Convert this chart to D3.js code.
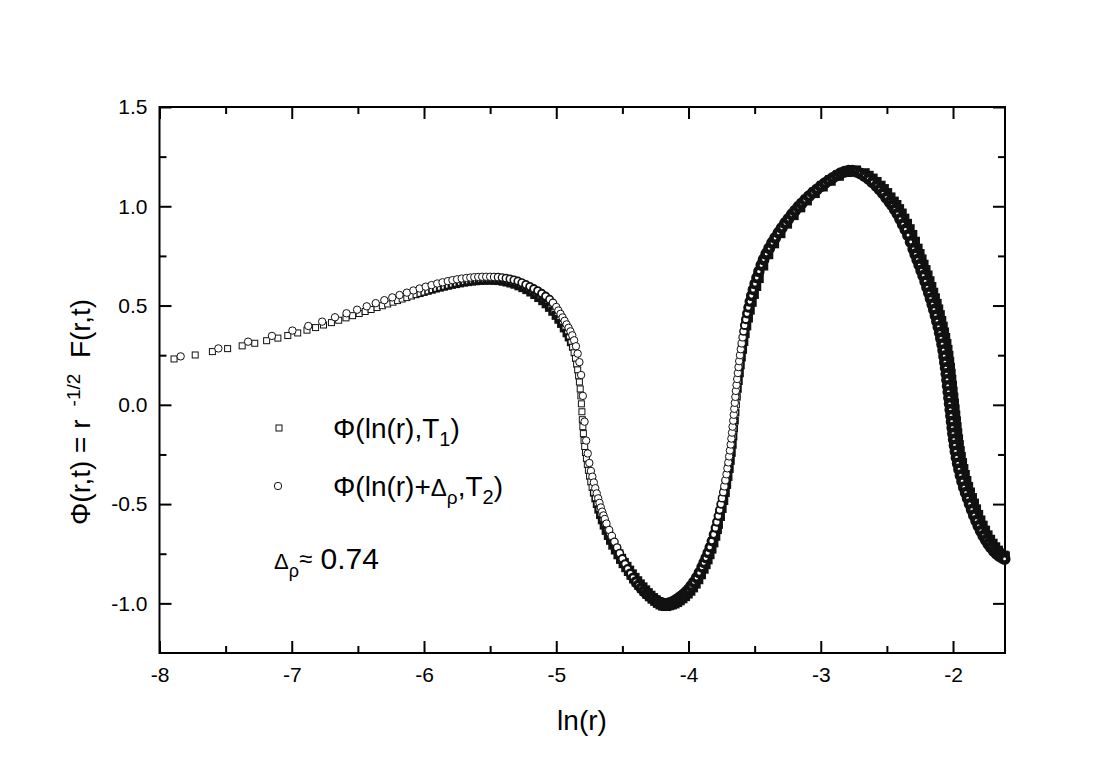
<!DOCTYPE html>
<html>
<head>
<meta charset="utf-8">
<script src="https://cdn.jsdelivr.net/npm/d3@7"></script>
<style>
  body { margin: 0; background: #fff; }
  svg text { font-family: "Liberation Sans", Arial, sans-serif; fill: #000; white-space: pre; }
</style>
</head>
<body>
<svg id="chart" width="1107" height="772"></svg>
<script>
'use strict';

// axis ticks
var xTicks = [-8, -7, -6, -5, -4, -3, -2];
var xMinorTicks = [-7.5, -6.5, -5.5, -4.5, -3.5, -2.5];
var yTicks = [-1.0, -0.5, 0.0, 0.5, 1.0, 1.5];
var yMinorTicks = [-0.75, -0.25, 0.25, 0.75, 1.25];

// Phi(ln(r),T1)  -> squares, [ln(r), Phi]
var seriesT1 = [
  [-7.89,0.231],[-7.73,0.251],[-7.60,0.268],[-7.485,0.283],[-7.375,0.297],[-7.28,0.310],[-7.19,0.323],[-7.105,0.336],
  [-7.03,0.349],[-6.955,0.362],[-6.885,0.376],[-6.82,0.389],[-6.76,0.402],[-6.70,0.414],[-6.645,0.426],[-6.59,0.438],
  [-6.54,0.449],[-6.49,0.460],[-6.445,0.470],[-6.40,0.480],[-6.355,0.490],[-6.315,0.499],[-6.275,0.508],[-6.235,0.517],
  [-6.20,0.525],[-6.165,0.533],[-6.13,0.540],[-6.095,0.548],[-6.06,0.555],[-6.03,0.561],[-6.00,0.567],[-5.97,0.573],
  [-5.94,0.579],[-5.91,0.585],[-5.88,0.590],[-5.85,0.595],[-5.82,0.600],[-5.79,0.605],[-5.76,0.609],[-5.73,0.613],
  [-5.70,0.617],[-5.67,0.620],[-5.64,0.623],[-5.61,0.625],[-5.58,0.627],[-5.55,0.628],[-5.52,0.629],[-5.49,0.629],
  [-5.46,0.628],[-5.43,0.627],[-5.40,0.624],[-5.37,0.620],[-5.34,0.615],[-5.31,0.609],[-5.28,0.601],[-5.25,0.592],
  [-5.22,0.582],[-5.19,0.570],[-5.16,0.557],[-5.13,0.542],[-5.10,0.526],[-5.075,0.510],[-5.05,0.492],[-5.025,0.472],
  [-5.0,0.451],[-4.98,0.431],[-4.96,0.410],[-4.94,0.387],[-4.92,0.362],[-4.905,0.340],[-4.89,0.315],[-4.877,0.290],
  [-4.865,0.262],[-4.855,0.234],[-4.846,0.205],[-4.838,0.176],[-4.831,0.146],[-4.825,0.115],[-4.819,0.080],[-4.814,0.045],
  [-4.81,0.005],[-4.806,-0.035],[-4.803,-0.075],[-4.799,-0.110],[-4.795,-0.145],[-4.79,-0.180],[-4.785,-0.210],[-4.779,-0.240],
  [-4.772,-0.270],[-4.765,-0.300],[-4.757,-0.330],[-4.748,-0.360],[-4.739,-0.388],[-4.729,-0.416],[-4.718,-0.444],[-4.706,-0.472],
  [-4.694,-0.500],[-4.681,-0.527],[-4.667,-0.554],[-4.653,-0.580],[-4.638,-0.606],[-4.622,-0.632],[-4.605,-0.657],[-4.588,-0.681],
  [-4.57,-0.705],[-4.55,-0.729],[-4.53,-0.753],[-4.51,-0.776],[-4.49,-0.797],[-4.47,-0.817],[-4.45,-0.836],[-4.43,-0.855],
  [-4.41,-0.873],[-4.39,-0.890],[-4.37,-0.906],[-4.35,-0.921],[-4.33,-0.936],[-4.31,-0.950],[-4.29,-0.963],[-4.27,-0.975],
  [-4.25,-0.986],[-4.23,-0.996],[-4.21,-1.004],[-4.19,-1.010],[-4.17,-1.012],[-4.148,-1.008],[-4.128,-1.004],[-4.108,-0.999],
  [-4.088,-0.992],[-4.068,-0.983],[-4.048,-0.973],[-4.028,-0.962],[-4.008,-0.949],[-3.988,-0.935],[-3.968,-0.918],[-3.948,-0.899],
  [-3.928,-0.877],[-3.908,-0.852],[-3.888,-0.824],[-3.873,-0.801],[-3.858,-0.777],[-3.843,-0.751],[-3.828,-0.723],[-3.813,-0.692],
  [-3.798,-0.659],[-3.785,-0.626],[-3.777,-0.60],[-3.762,-0.56],[-3.749,-0.52],[-3.736,-0.48],[-3.724,-0.44],[-3.713,-0.40],
  [-3.703,-0.36],[-3.693,-0.32],[-3.684,-0.28],[-3.676,-0.24],[-3.668,-0.20],[-3.661,-0.16],[-3.655,-0.12],[-3.649,-0.08],
  [-3.643,-0.04],[-3.638,0.00],[-3.633,0.04],[-3.627,0.08],[-3.621,0.12],[-3.614,0.16],[-3.607,0.20],[-3.600,0.24],
  [-3.592,0.28],[-3.583,0.32],[-3.574,0.36],[-3.563,0.40],[-3.551,0.44],[-3.538,0.48],[-3.524,0.52],[-3.508,0.56],
  [-3.490,0.60],[-3.471,0.64],[-3.437,0.703],[-3.399,0.760],[-3.355,0.815],[-3.307,0.866],[-3.257,0.914],[-3.207,0.957],
  [-3.157,0.996],[-3.107,1.031],[-3.047,1.068],[-2.987,1.101],[-2.927,1.130],[-2.865,1.155],[-2.80,1.174],[-2.735,1.179],
  [-2.67,1.165],[-2.64,1.152],[-2.61,1.138],[-2.58,1.121],[-2.55,1.102],[-2.525,1.085],[-2.50,1.065],[-2.475,1.043],
  [-2.45,1.022],[-2.43,1.005],[-2.41,0.984],[-2.39,0.962],[-2.37,0.936],[-2.35,0.910],[-2.33,0.883],[-2.31,0.854],
  [-2.29,0.820],[-2.27,0.785],[-2.255,0.758],[-2.24,0.731],[-2.225,0.704],[-2.21,0.677],[-2.195,0.650],[-2.18,0.621],
  [-2.166,0.592],[-2.152,0.563],[-2.139,0.535],[-2.126,0.507],[-2.114,0.479],[-2.102,0.450],[-2.091,0.421],[-2.08,0.392],
  [-2.07,0.363],[-2.061,0.335],[-2.052,0.305],[-2.044,0.275],[-2.037,0.245],[-2.031,0.215],[-2.025,0.185],[-2.02,0.155],
  [-2.015,0.125],[-2.01,0.095],[-2.005,0.065],[-2.0,0.035],[-1.995,0.005],[-1.99,-0.025],[-1.985,-0.055],[-1.98,-0.085],
  [-1.975,-0.115],[-1.97,-0.145],[-1.964,-0.175],[-1.958,-0.205],[-1.951,-0.235],[-1.943,-0.265],[-1.934,-0.295],[-1.924,-0.325],
  [-1.913,-0.355],[-1.901,-0.385],[-1.888,-0.415],[-1.874,-0.443],[-1.859,-0.471],[-1.844,-0.499],[-1.828,-0.528],[-1.812,-0.556],
  [-1.795,-0.584],[-1.778,-0.610],[-1.76,-0.635],[-1.741,-0.659],[-1.722,-0.681],[-1.703,-0.701],[-1.683,-0.719],[-1.662,-0.736],
  [-1.641,-0.750],[-1.62,-0.761],[-1.61,-0.765]
];

// Phi(ln(r)+Delta_rho,T2)  -> circles, [ln(r), Phi]
var seriesT2 = [
  [-7.84,0.244],[-7.555,0.284],[-7.33,0.318],[-7.15,0.347],[-6.995,0.374],[-6.875,0.397],[-6.77,0.419],[-6.673,0.441],
  [-6.586,0.461],[-6.506,0.479],[-6.433,0.496],[-6.365,0.512],[-6.30,0.527],[-6.24,0.541],[-6.185,0.553],[-6.13,0.565],
  [-6.08,0.576],[-6.033,0.586],[-5.987,0.595],[-5.943,0.603],[-5.90,0.611],[-5.86,0.617],[-5.82,0.623],[-5.785,0.628],
  [-5.75,0.632],[-5.715,0.636],[-5.68,0.639],[-5.65,0.641],[-5.62,0.643],[-5.59,0.644],[-5.56,0.645],[-5.53,0.645],
  [-5.50,0.645],[-5.47,0.644],[-5.44,0.643],[-5.41,0.641],[-5.38,0.638],[-5.35,0.634],[-5.32,0.629],[-5.29,0.623],
  [-5.26,0.615],[-5.23,0.606],[-5.20,0.596],[-5.17,0.585],[-5.14,0.574],[-5.11,0.561],[-5.08,0.547],[-5.05,0.531],
  [-5.025,0.514],[-5.0,0.493],[-4.984,0.475],[-4.968,0.458],[-4.952,0.440],[-4.937,0.423],[-4.922,0.405],[-4.907,0.388],
  [-4.893,0.370],[-4.879,0.350],[-4.865,0.325],[-4.851,0.295],[-4.838,0.258],[-4.825,0.215],[-4.812,0.150],[-4.799,0.045],
  [-4.786,-0.085],[-4.774,-0.180],[-4.762,-0.245],[-4.750,-0.293],[-4.738,-0.333],[-4.727,-0.362],[-4.716,-0.391],[-4.705,-0.420],
  [-4.694,-0.446],[-4.683,-0.471],[-4.673,-0.494],[-4.663,-0.517],[-4.653,-0.538],[-4.643,-0.557],[-4.633,-0.575],[-4.62,-0.598],
  [-4.60,-0.630],[-4.58,-0.661],[-4.56,-0.690],[-4.54,-0.719],[-4.52,-0.747],[-4.50,-0.775],[-4.48,-0.801],[-4.46,-0.826],
  [-4.44,-0.849],[-4.42,-0.870],[-4.40,-0.890],[-4.38,-0.907],[-4.36,-0.923],[-4.34,-0.937],[-4.32,-0.950],[-4.30,-0.960],
  [-4.28,-0.970],[-4.26,-0.980],[-4.24,-0.988],[-4.22,-0.995],[-4.20,-1.000],[-4.18,-1.003],[-4.16,-1.002],[-4.14,-0.998],
  [-4.12,-0.993],[-4.10,-0.986],[-4.08,-0.977],[-4.06,-0.967],[-4.04,-0.956],[-4.02,-0.943],[-4.00,-0.929],[-3.98,-0.912],
  [-3.96,-0.893],[-3.94,-0.871],[-3.92,-0.846],[-3.90,-0.818],[-3.885,-0.795],[-3.87,-0.771],[-3.855,-0.745],[-3.84,-0.717],
  [-3.825,-0.686],[-3.81,-0.653],[-3.797,-0.62],[-3.786,-0.59],[-3.775,-0.56],[-3.765,-0.53],[-3.755,-0.50],[-3.746,-0.47],
  [-3.737,-0.44],[-3.729,-0.41],[-3.721,-0.38],[-3.713,-0.35],[-3.706,-0.32],[-3.699,-0.29],[-3.693,-0.26],[-3.687,-0.23],
  [-3.681,-0.20],[-3.676,-0.17],[-3.671,-0.14],[-3.667,-0.11],[-3.662,-0.08],[-3.658,-0.05],[-3.654,-0.02],[-3.650,0.01],
  [-3.646,0.04],[-3.642,0.07],[-3.637,0.10],[-3.632,0.13],[-3.627,0.16],[-3.622,0.19],[-3.617,0.22],[-3.611,0.25],
  [-3.605,0.28],[-3.598,0.31],[-3.591,0.34],[-3.584,0.37],[-3.576,0.40],[-3.567,0.43],[-3.558,0.46],[-3.548,0.49],
  [-3.537,0.52],[-3.525,0.55],[-3.512,0.58],[-3.498,0.61],[-3.484,0.64],[-3.468,0.672],[-3.45,0.703],[-3.432,0.732],
  [-3.412,0.760],[-3.39,0.788],[-3.368,0.815],[-3.345,0.840],[-3.32,0.866],[-3.295,0.891],[-3.27,0.914],[-3.245,0.936],
  [-3.22,0.957],[-3.195,0.977],[-3.17,0.996],[-3.145,1.014],[-3.12,1.031],[-3.09,1.050],[-3.06,1.068],[-3.03,1.085],
  [-3.00,1.101],[-2.97,1.116],[-2.94,1.130],[-2.91,1.143],[-2.88,1.155],[-2.85,1.166],[-2.82,1.174],[-2.79,1.179],
  [-2.76,1.179],[-2.73,1.174],[-2.70,1.165],[-2.67,1.152],[-2.64,1.138],[-2.61,1.121],[-2.58,1.102],[-2.555,1.085],
  [-2.53,1.065],[-2.505,1.043],[-2.48,1.022],[-2.46,1.005],[-2.44,0.984],[-2.42,0.962],[-2.40,0.936],[-2.38,0.910],
  [-2.36,0.883],[-2.34,0.854],[-2.32,0.820],[-2.30,0.785],[-2.285,0.758],[-2.27,0.731],[-2.255,0.704],[-2.24,0.677],
  [-2.225,0.650],[-2.21,0.621],[-2.196,0.592],[-2.182,0.563],[-2.169,0.535],[-2.156,0.507],[-2.144,0.479],[-2.132,0.450],
  [-2.121,0.421],[-2.11,0.392],[-2.10,0.363],[-2.091,0.335],[-2.082,0.305],[-2.074,0.275],[-2.067,0.245],[-2.061,0.215],
  [-2.055,0.185],[-2.05,0.155],[-2.045,0.125],[-2.04,0.095],[-2.035,0.065],[-2.03,0.035],[-2.025,0.005],[-2.02,-0.025],
  [-2.015,-0.055],[-2.01,-0.085],[-2.005,-0.115],[-2.00,-0.145],[-1.994,-0.175],[-1.988,-0.205],[-1.981,-0.235],[-1.973,-0.265],
  [-1.964,-0.295],[-1.954,-0.325],[-1.943,-0.355],[-1.931,-0.385],[-1.918,-0.415],[-1.904,-0.443],[-1.889,-0.471],[-1.874,-0.499],
  [-1.858,-0.528],[-1.842,-0.556],[-1.825,-0.584],[-1.808,-0.610],[-1.79,-0.635],[-1.771,-0.659],[-1.752,-0.681],[-1.733,-0.701],
  [-1.713,-0.719],[-1.692,-0.736],[-1.671,-0.750],[-1.65,-0.761],[-1.628,-0.770],[-1.61,-0.776]
];

var svg = d3.select('#chart');

var x = d3.scaleLinear().domain([-8, -1.607]).range([159.5, 1005]);
var y = d3.scaleLinear().domain([-1.25, 1.5]).range([653, 107]);

var fmtY = function (d) { return d.toFixed(1); };
var fmtX = function (d) { return String(d); };

// draws one axis (major or minor ticks), no domain line
function drawAxis(axis, tx, ty) {
  var g = svg.append('g')
    .attr('transform', 'translate(' + tx + ',' + ty + ')')
    .call(axis);
  g.select('.domain').remove();
  g.selectAll('.tick line').attr('stroke', '#000').attr('stroke-width', 2);
  g.selectAll('.tick text').attr('font-size', 21).attr('fill', '#000');
  return g;
}

// bottom
drawAxis(d3.axisBottom(x).tickValues(xTicks).tickSize(-12).tickPadding(14).tickFormat(fmtX), 0, 653);
drawAxis(d3.axisBottom(x).tickValues(xMinorTicks).tickSize(-7).tickFormat(''), 0, 653);
// top
drawAxis(d3.axisTop(x).tickValues(xTicks).tickSize(-12).tickFormat(''), 0, 107);
drawAxis(d3.axisTop(x).tickValues(xMinorTicks).tickSize(-7).tickFormat(''), 0, 107);
// left
drawAxis(d3.axisLeft(y).tickValues(yTicks).tickSize(-12).tickPadding(12).tickFormat(fmtY), 159.5, 0);
drawAxis(d3.axisLeft(y).tickValues(yMinorTicks).tickSize(-7).tickFormat(''), 159.5, 0);
// right
drawAxis(d3.axisRight(y).tickValues(yTicks).tickSize(-12).tickFormat(''), 1005, 0);
drawAxis(d3.axisRight(y).tickValues(yMinorTicks).tickSize(-7).tickFormat(''), 1005, 0);

// frame
svg.append('rect')
  .attr('x', x(-8)).attr('y', y(1.5))
  .attr('width', x(-1.607) - x(-8)).attr('height', y(-1.25) - y(1.5))
  .attr('fill', 'none').attr('stroke', '#000').attr('stroke-width', 2);

// The original plot has thousands of points (even steps in r), so the
// markers pile up into a solid band toward large r. Emulate that overplotting
// by thickening the outline where the original spacing drops below ~3px.
function overplotWidth(series, rStep) {
  return series.map(function (d, i) {
    var a = series[Math.max(i - 1, 0)], b = series[Math.min(i + 1, series.length - 1)];
    var arc = Math.hypot(x(b[0]) - x(a[0]), y(b[1]) - y(a[1]));
    var spacing = arc / (b[0] - a[0]) * rStep / Math.exp(d[0]);
    var t = Math.max(0, Math.min(1, (3.5 - spacing) / 2.5));
    return 1 + t * 3.6;
  });
}
var wT1 = overplotWidth(seriesT1, 5.8e-5);
var wT2 = overplotWidth(seriesT2, 1.1e-4);

// data points: squares first, circles on top
var sq = 6, cr = 3.7;
svg.append('g').attr('class', 'squares')
  .selectAll('rect')
  .data(seriesT1)
  .enter().append('rect')
  .attr('x', function (d) { return x(d[0]) - sq / 2; })
  .attr('y', function (d) { return y(d[1]) - sq / 2; })
  .attr('width', sq).attr('height', sq)
  .attr('fill', '#fff').attr('stroke', '#111')
  .attr('stroke-width', function (d, i) { return wT1[i]; });

svg.append('g').attr('class', 'circles')
  .selectAll('circle')
  .data(seriesT2)
  .enter().append('circle')
  .attr('cx', function (d) { return x(d[0]); })
  .attr('cy', function (d) { return y(d[1]); })
  .attr('r', cr)
  .attr('fill', '#fff').attr('stroke', '#111')
  .attr('stroke-width', function (d, i) { return wT2[i]; });

// axis titles
svg.append('text')
  .attr('x', 582).attr('y', 730)
  .attr('text-anchor', 'middle').attr('font-size', 28)
  .text('ln(r)');

var yTitle = svg.append('text')
  .attr('transform', 'translate(90,525) rotate(-90)')
  .attr('font-size', 28);
yTitle.append('tspan').text('\u03A6(r,t) = r ');
yTitle.append('tspan').attr('font-size', 19).attr('dy', -10).text(' -1/2');
yTitle.append('tspan').attr('dy', 10).text('  F(r,t)');

// legend
var legend = svg.append('g').attr('class', 'legend');
legend.append('rect')
  .attr('x', 279 - sq / 2).attr('y', 428 - sq / 2).attr('width', sq).attr('height', sq)
  .attr('fill', '#fff').attr('stroke', '#111').attr('stroke-width', 1);
legend.append('circle')
  .attr('cx', 278).attr('cy', 486).attr('r', cr)
  .attr('fill', '#fff').attr('stroke', '#111').attr('stroke-width', 1);

var l1 = legend.append('text').attr('x', 333).attr('y', 438).attr('font-size', 28);
l1.append('tspan').text('\u03A6(ln(r),T');
l1.append('tspan').attr('font-size', 20).attr('dy', 8).text('1');
l1.append('tspan').attr('dy', -8).text(')');

var l2 = legend.append('text').attr('x', 333).attr('y', 496).attr('font-size', 28);
l2.append('tspan').text('\u03A6(ln(r)+');
l2.append('tspan').attr('font-size', 24).text('\u0394');
l2.append('tspan').attr('font-size', 19).attr('dy', 8).text('\u03C1');
l2.append('tspan').attr('dy', -8).text(',T');
l2.append('tspan').attr('font-size', 20).attr('dy', 8).text('2');
l2.append('tspan').attr('dy', -8).text(')');

var l3 = legend.append('text').attr('x', 274).attr('y', 569).attr('font-size', 30);
l3.append('tspan').attr('font-size', 22).text('\u0394');
l3.append('tspan').attr('font-size', 18).attr('dy', 8).text('\u03C1');
l3.append('tspan').attr('font-size', 24).attr('dy', -10).text('\u2248');
l3.append('tspan').attr('dy', 2).text(' 0.74');
</script>
</body>
</html>
